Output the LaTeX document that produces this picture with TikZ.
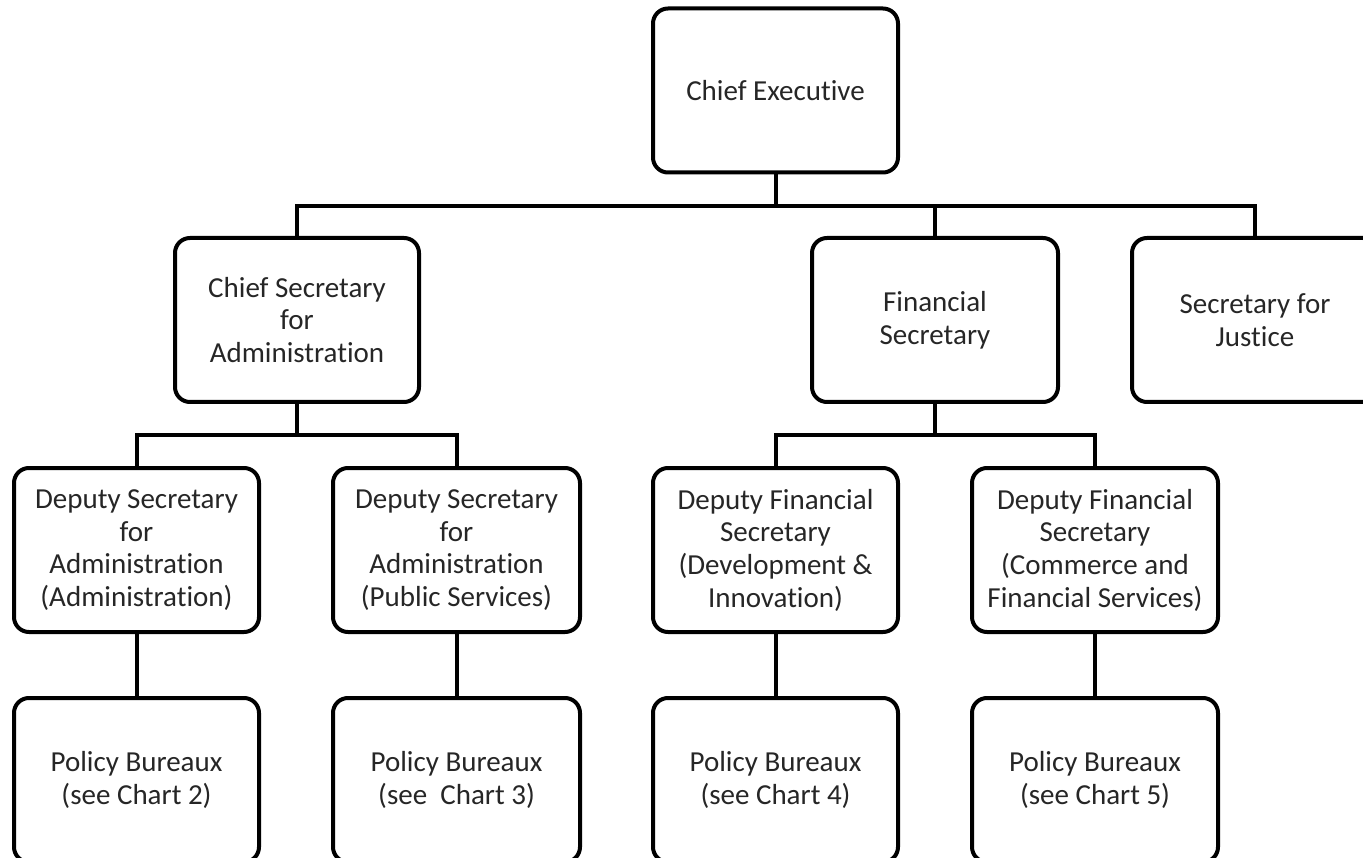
\documentclass[tikz,border=0pt]{standalone}
\usepackage{fontspec}
\setmainfont{Carlito}[Ligatures={NoCommon,NoContextual}]
\begin{document}
\begin{tikzpicture}[x=1pt,y=-1pt,
  box/.style={draw=black, line width=4pt, rounded corners=15pt, fill=white,
    minimum width=#1, minimum height=164pt, align=center, inner sep=0pt,
    text=black!85, font=\fontsize{29}{32.7}\selectfont},
  box/.default=245pt,
  conn/.style={draw=black, line width=4pt, line join=miter}]
\clip (0,0) rectangle (1363,858);
\fill[white] (0,0) rectangle (1363,858);
% top level
\node[box] (ce) at (775.5,90.5) {Chief Executive};
% second level
\node[box=244pt] (cs) at (297,320) {Chief Secretary\\for\\Administration};
\node[box=246pt] (fs) at (935,320) {Financial\\Secretary};
\node[box=246pt] (sj) at (1255,320) {Secretary for\\Justice};
% third level
\node[box] (d1) at (136.5,550) {Deputy Secretary\\for\\Administration\\(Administration)};
\node[box=247pt] (d2) at (456.5,550) {Deputy Secretary\\for\\Administration\\(Public Services)};
\node[box] (d3) at (775.5,550) {Deputy Financial\\Secretary\\(Development \&\\Innovation)};
\node[box=246pt] (d4) at (1095,550) {Deputy Financial\\Secretary\\(Commerce and\\Financial Services)};
% fourth level
\node[box] (p1) at (136.5,780) {Policy Bureaux\\(see Chart 2)};
\node[box=247pt] (p2) at (456.5,780) {Policy Bureaux\\(see\ \ Chart 3)};
\node[box] (p3) at (775.5,780) {Policy Bureaux\\(see Chart 4)};
\node[box=246pt] (p4) at (1095,780) {Policy Bureaux\\(see Chart 5)};
% bus coordinates
\coordinate (bus1) at (0,206);
\coordinate (bus2) at (0,435.5);
% connectors
\draw[conn] (ce.south) -- (ce.south |- bus1);
\draw[conn] (cs.north) |- (bus1 -| sj.north) -- (sj.north);
\draw[conn] (fs.north) -- (fs.north |- bus1);
\draw[conn] (cs.south) -- (cs.south |- bus2);
\draw[conn] (d1.north) |- (bus2 -| d2.north) -- (d2.north);
\draw[conn] (fs.south) -- (fs.south |- bus2);
\draw[conn] (d3.north) |- (bus2 -| d4.north) -- (d4.north);
\draw[conn] (d1.south) -- (p1.north);
\draw[conn] (d2.south) -- (p2.north);
\draw[conn] (d3.south) -- (p3.north);
\draw[conn] (d4.south) -- (p4.north);
\end{tikzpicture}
\end{document}
